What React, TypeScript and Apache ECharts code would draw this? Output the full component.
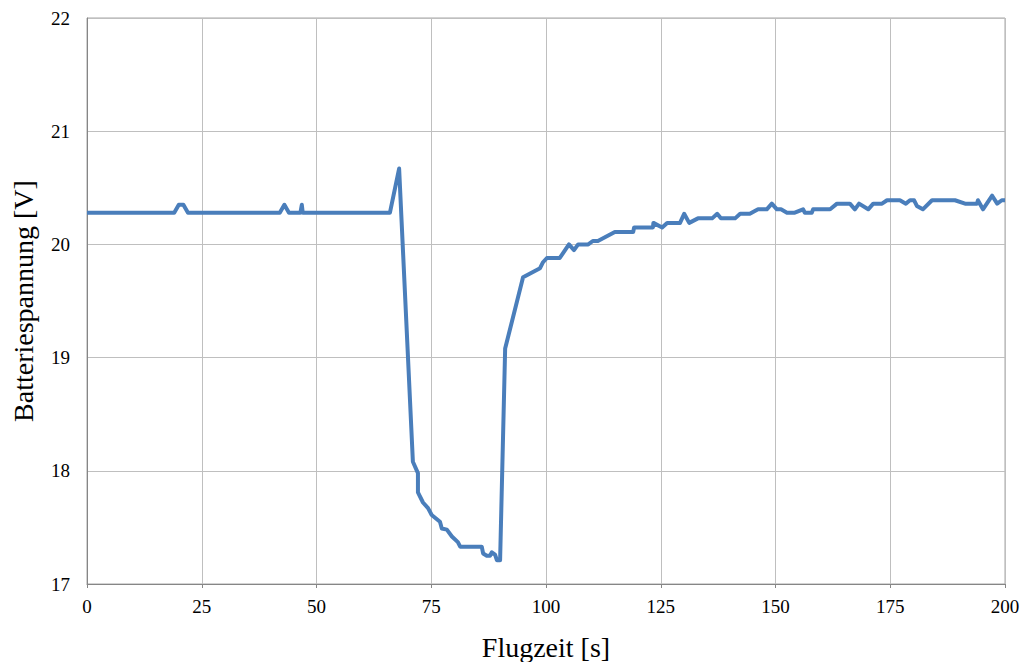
import React, { useEffect, useRef } from "react";
import * as echarts from "echarts";

// Flugzeit [s]
const flugzeit: number[] = [
  0, 19, 20, 21, 22, 42, 43, 44, 46.5, 46.8, 47, 66, 68,
  71, 72.1, 72.1, 73.2, 74.3, 75.1, 76.9, 77.3, 78.4, 79.5, 80.8, 81.3,
  86.0, 86.3, 87.1, 87.8, 88.2, 88.9, 89.3, 90.0,
  91.1, 95.0, 98.7, 99.3, 100.2, 103, 105, 106.1, 107, 109.2, 110.2, 111.3,
  115, 119, 119.2, 123.3, 123.4, 125.3, 126.4, 129.2, 130.1, 131.2, 133.1,
  136.2, 137.3, 138.1, 141.2, 142.3, 144.4, 146.2, 148.1, 149.2, 150.3,
  151.2, 152.5, 154.2, 156.0, 156.4, 157.9, 158.2, 161.9, 163.4, 166.2,
  167.3, 168.2, 170.2, 171.3, 173.2, 174.3, 177.1, 178.4, 179.3, 180.2,
  180.8, 182.1, 184.1, 189.1, 191.3, 193.9, 194.1, 195.2, 197.2, 198.3,
  199.3, 200,
];

// Batteriespannung [V]
const spannung: number[] = [
  20.28, 20.28, 20.35, 20.35, 20.28, 20.28, 20.35, 20.28, 20.28, 20.35, 20.28, 20.28, 20.67,
  18.08, 17.98, 17.81, 17.72, 17.67, 17.61, 17.55, 17.49, 17.48, 17.42, 17.37, 17.33,
  17.33, 17.27, 17.25, 17.25, 17.28, 17.26, 17.21, 17.21,
  19.08, 19.71, 19.79, 19.84, 19.88, 19.88, 20.0, 19.95, 20.0, 20.0, 20.03, 20.03,
  20.11, 20.11, 20.15, 20.15, 20.19, 20.15, 20.19, 20.19, 20.27, 20.19, 20.23,
  20.23, 20.27, 20.23, 20.23, 20.27, 20.27, 20.31, 20.31, 20.36, 20.31,
  20.31, 20.28, 20.28, 20.31, 20.28, 20.28, 20.31, 20.31, 20.36, 20.36,
  20.31, 20.36, 20.31, 20.36, 20.36, 20.39, 20.39, 20.36, 20.39, 20.39,
  20.34, 20.31, 20.39, 20.39, 20.36, 20.36, 20.39, 20.31, 20.43, 20.36,
  20.39, 20.39,
];

const FONT = "'Liberation Serif', 'Times New Roman', serif";

export default function App() {
  const ref = useRef<HTMLDivElement>(null);

  useEffect(() => {
    if (!ref.current) return;
    const chart = echarts.init(ref.current, undefined, { renderer: "svg" });
    chart.setOption({
      animation: false,
      backgroundColor: "#ffffff",
      grid: {
        left: 87,
        right: 19,
        top: 18,
        bottom: 78,
        containLabel: false,
        outerBoundsMode: "none",
        show: true,
        borderColor: "#a6a6a6",
        borderWidth: 1,
      },
      xAxis: {
        type: "value",
        min: 0,
        max: 200,
        interval: 25,
        name: "Flugzeit [s]",
        nameLocation: "middle",
        nameGap: 49,
        nameTextStyle: { fontFamily: FONT, fontSize: 28, color: "#000" },
        axisLine: { show: true, lineStyle: { color: "#868686", width: 1 } },
        axisTick: { show: true, length: 4, inside: false, lineStyle: { color: "#868686" } },
        axisLabel: { fontFamily: FONT, fontSize: 19, color: "#000", margin: 13 },
        splitLine: { show: true, lineStyle: { color: "#bfbfbf", width: 1 } },
      },
      yAxis: {
        type: "value",
        min: 17,
        max: 22,
        interval: 1,
        name: "Batteriespannung [V]",
        nameLocation: "middle",
        nameGap: 50,
        nameTextStyle: { fontFamily: FONT, fontSize: 28, color: "#000" },
        axisLine: { show: true, lineStyle: { color: "#868686", width: 1 } },
        axisTick: { show: false },
        axisLabel: { fontFamily: FONT, fontSize: 19, color: "#000", margin: 17 },
        splitLine: { show: true, lineStyle: { color: "#bfbfbf", width: 1 } },
      },
      series: [
        {
          type: "line",
          data: flugzeit.map((t, i) => [t, spannung[i]]),
          showSymbol: false,
          lineStyle: { color: "#4a7ebb", width: 4, join: "round" },
          itemStyle: { color: "#4a7ebb" },
        },
      ],
    });
    return () => chart.dispose();
  }, []);

  return (
    <div
      ref={ref}
      style={{ position: "fixed", left: 0, top: 0, width: 1024, height: 662 }}
    />
  );
}
